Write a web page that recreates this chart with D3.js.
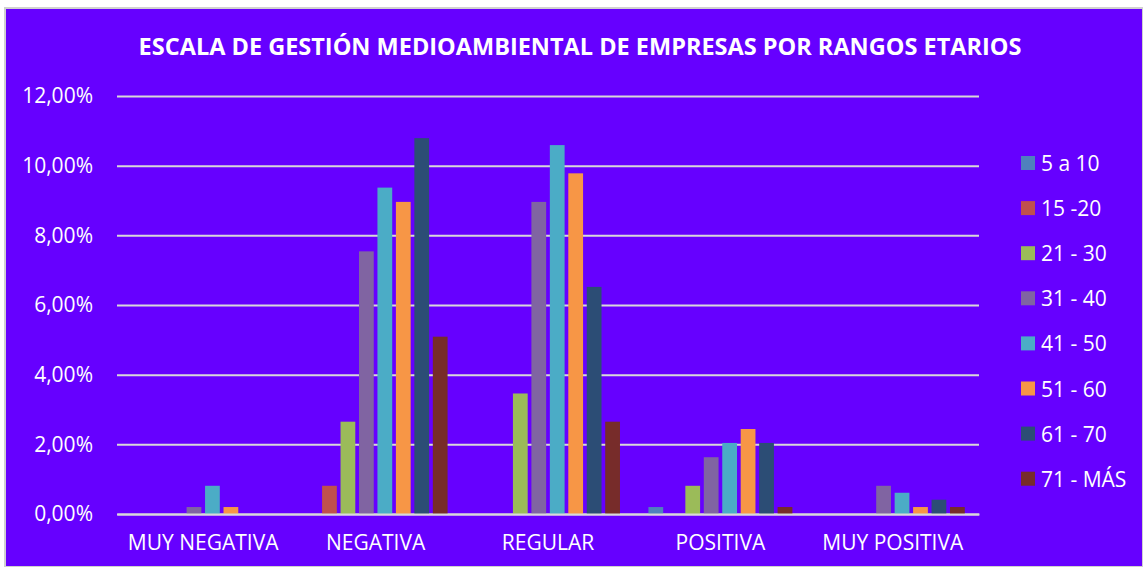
<!DOCTYPE html>
<html>
<head>
<meta charset="utf-8">
<script src="https://cdn.jsdelivr.net/npm/d3@7"></script>
<style>
  body { margin: 0; background: #fff; }
  svg text { font-family: "Open Sans", "Noto Sans", sans-serif; fill: #fff; }
</style>
</head>
<body>
<div class="vis-barchart"></div>
<script>
// categories and series (percentages)
const categories = ["MUY NEGATIVA", "NEGATIVA", "REGULAR", "POSITIVA", "MUY POSITIVA"];
const seriesNames = ["5 a 10", "15 -20", "21 - 30", "31 - 40", "41 - 50", "51 - 60", "61 - 70", "71 - MÁS"];
const s5a10  = [0, 0, 0, 0.20, 0];
const s15a20 = [0, 0.81, 0, 0, 0];
const s21a30 = [0, 2.65, 3.46, 0.81, 0];
const s31a40 = [0.20, 7.54, 8.96, 1.63, 0.81];
const s41a50 = [0.81, 9.37, 10.59, 2.04, 0.61];
const s51a60 = [0.20, 8.96, 9.78, 2.44, 0.20];
const s61a70 = [0, 10.79, 6.52, 2.04, 0.41];
const s71mas = [0, 5.09, 2.65, 0.20, 0.20];
const yTicks = [0, 2, 4, 6, 8, 10, 12];
const colors = ["#4F81BD", "#C0504D", "#9BBB59", "#8064A2", "#4BACC6", "#F79646", "#2C4D75", "#772C2A"];

const seriesValues = [s5a10, s15a20, s21a30, s31a40, s41a50, s51a60, s61a70, s71mas];

const W = 1143, H = 567;
const margin = { top: 96, right: 164, bottom: 53, left: 117 };
const width = W - margin.left - margin.right;
const height = H - margin.top - margin.bottom;

const svg = d3.select(".vis-barchart")
    .append("svg")
    .attr("width", W)
    .attr("height", H);

// chart background
svg.append("rect")
    .attr("x", 5).attr("y", 8)
    .attr("width", W - 5).attr("height", H - 8)
    .attr("fill", "#6600FF")
    .attr("stroke", "#d0d0d0")
    .attr("stroke-width", 2);

svg.append("text")
    .attr("x", 580)
    .attr("y", 55)
    .attr("text-anchor", "middle")
    .style("font-weight", "bold")
    .style("font-size", "23.5px")
    .text("ESCALA DE GESTIÓN MEDIOAMBIENTAL DE EMPRESAS POR RANGOS ETARIOS");

const g = svg.append("g")
    .attr("transform", `translate(${margin.left},${margin.top})`);

const x0 = d3.scaleBand()
    .domain(categories)
    .range([0, width]);

const x1 = d3.scaleBand()
    .domain(seriesNames)
    .range([0, x0.bandwidth() * 0.835])
    .paddingInner(0.2);

const y = d3.scaleLinear()
    .domain([0, 12])
    .range([height, 0]);

const fmt = v => d3.format(".2f")(v).replace(".", ",") + "%";

// grid lines
const yAxis = g.append("g")
    .call(d3.axisLeft(y).tickValues(yTicks).tickSize(-width).tickFormat(fmt));
yAxis.select(".domain").remove();
yAxis.selectAll(".tick line")
    .attr("stroke", "#D9D9D9")
    .attr("stroke-width", 2);
yAxis.selectAll(".tick text")
    .attr("x", -24)
    .style("font-size", "21px")
    .attr("fill", "#fff");

// bars
const groupOffset = (x0.bandwidth() - x1.range()[1]) / 2;
seriesNames.forEach((name, i) => {
    g.append("g")
        .selectAll("rect")
        .data(seriesValues[i].map((v, j) => ({ cat: categories[j], v })))
        .join("rect")
        .filter(d => d.v > 0)
        .attr("x", d => x0(d.cat) + groupOffset + x1(name))
        .attr("y", d => y(d.v))
        .attr("width", x1.bandwidth())
        .attr("height", d => y(0) - y(d.v))
        .attr("fill", colors[i]);
});

// x axis
const xAxis = g.append("g")
    .attr("transform", `translate(0,${height})`)
    .call(d3.axisBottom(x0).tickSize(0));
xAxis.select(".domain").attr("stroke", "#D9D9D9").attr("stroke-width", 2);
xAxis.selectAll(".tick text")
    .attr("y", 21)
    .style("font-size", "21px")
    .attr("fill", "#fff");

// legend
const legend = svg.append("g")
    .attr("transform", "translate(1021, 156)");
seriesNames.forEach((name, i) => {
    const row = legend.append("g")
        .attr("transform", `translate(0, ${i * 45.1})`);
    row.append("rect")
        .attr("width", 14)
        .attr("height", 14)
        .attr("fill", colors[i]);
    row.append("text")
        .attr("x", 20)
        .attr("y", 15)
        .style("font-size", "21px")
        .text(name);
});
</script>
</body>
</html>
